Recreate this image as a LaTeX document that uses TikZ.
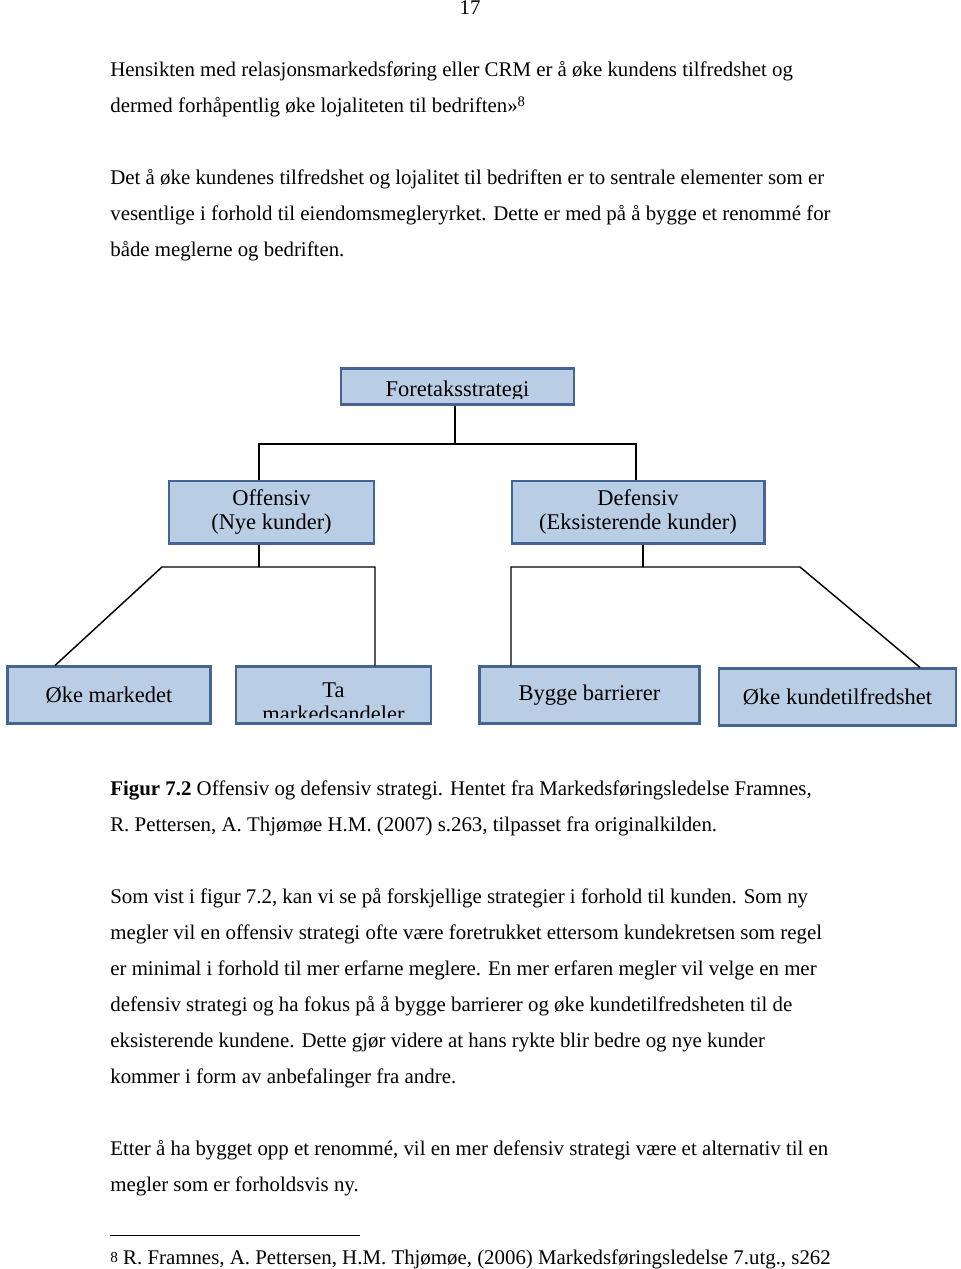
\documentclass[tikz,border=0pt]{standalone}
\usepackage{fontspec}
\setmainfont{Liberation Serif}
\definecolor{boxfill}{RGB}{185,205,229}
\definecolor{boxedge}{RGB}{70,100,145}
\tikzstyle{box} = [draw=boxedge, fill=boxfill, line width=1.8pt, inner sep=0pt]
\tikzstyle{boxtext} = [font=\fontsize{14}{15.2}\selectfont, align=center, inner sep=0pt]
\tikzstyle{line} = [anchor=base west, inner sep=0pt, font=\fontsize{13}{15}\selectfont]
\tikzstyle{link} = [line width=0.9pt]

\begin{document}
\begin{tikzpicture}[x=0.0219cm, y=-0.0219cm]
\useasboundingbox (0,0) rectangle (960,1269);

% page number and text above the figure
\node[line, anchor=base] (pageno) at (470,15) {17};
\node[line] (l1) at (110,77) {Hensikten med relasjonsmarkedsføring eller CRM er å øke kundens tilfredshet og};
\node[line] (l2) at (110,113) {dermed forhåpentlig øke lojaliteten til bedriften»\textsuperscript{8}};
\node[line] (l3) at (110,185) {Det å øke kundenes tilfredshet og lojalitet til bedriften er to sentrale elementer som er};
\node[line] (l4) at (110,221) {vesentlige i forhold til eiendomsmegleryrket. Dette er med på å bygge et renommé for};
\node[line] (l5) at (110,257) {både meglerne og bedriften.};

% the strategy tree
\node[box, minimum width=5.1cm, minimum height=0.78cm] (top) at (457.5,386.5) {};
\begin{scope}
\clip ([shift={(2,-7)}]top.south west) rectangle ([shift={(-2,2)}]top.north east);
\node[boxtext] (toptext) at (457.5,391) {Foretaksstrategi};
\end{scope}

\node[box, minimum width=4.49cm, minimum height=1.36cm, boxtext] (off) at (271.5,512) {Offensiv\\(Nye kunder)};
\node[box, minimum width=5.52cm, minimum height=1.36cm, boxtext] (def) at (638,512) {Defensiv\\(Eksisterende kunder)};

\node[box, minimum width=4.43cm, minimum height=1.23cm, boxtext] (okm) at (109,695) {Øke markedet};
\node[box, minimum width=4.27cm, minimum height=1.23cm] (tam) at (333.5,695) {};
\begin{scope}
\clip ([shift={(2,-7)}]tam.south west) rectangle ([shift={(-2,2)}]tam.north east);
\node[boxtext] (tamtext) at (333.5,702) {Ta\\markedsandeler};
\end{scope}
\node[box, minimum width=4.8cm, minimum height=1.23cm, boxtext] (byg) at (589.5,695) {Bygge barrierer};
\node[box, minimum width=5.19cm, minimum height=1.23cm, boxtext] (okk) at (837.5,697) {Øke kundetilfredshet};

\coordinate (tj) at (455,444);
\coordinate (oj) at (259,567);
\coordinate (dj) at (643,567);
\draw[link] (top.south -| tj) -- (tj);
\draw[link] ([shift={(-12.5,0)}]off.north) |- (tj) -| ([shift={(-2,0)}]def.north);
\draw[link] (off.south -| oj) -- (oj);
\draw[link] ([shift={(-54,0)}]okm.north) -- ([shift={(-97,0)}]oj) -| ([shift={(41.5,0)}]tam.north);
\draw[link] (def.south -| dj) -- (dj);
\draw[link] ([shift={(-78.5,0)}]byg.north) |- (dj) -- ([shift={(157,0)}]dj) -- ([shift={(82.5,0)}]okk.north);

% caption and text below the figure
\node[line] (cap1) at (110,795) {\textbf{Figur 7.2} Offensiv og defensiv strategi. Hentet fra Markedsføringsledelse Framnes,};
\node[line] (cap2) at (110,831) {R. Pettersen, A. Thjømøe H.M. (2007) s.263, tilpasset fra originalkilden.};
\node[line] (l6) at (110,903) {Som vist i figur 7.2, kan vi se på forskjellige strategier i forhold til kunden. Som ny};
\node[line] (l7) at (110,939) {megler vil en offensiv strategi ofte være foretrukket ettersom kundekretsen som regel};
\node[line] (l8) at (110,975) {er minimal i forhold til mer erfarne meglere. En mer erfaren megler vil velge en mer};
\node[line] (l9) at (110,1011) {defensiv strategi og ha fokus på å bygge barrierer og øke kundetilfredsheten til de};
\node[line] (l10) at (110,1047) {eksisterende kundene. Dette gjør videre at hans rykte blir bedre og nye kunder};
\node[line] (l11) at (110,1083) {kommer i form av anbefalinger fra andre.};
\node[line] (l12) at (110,1155) {Etter å ha bygget opp et renommé, vil en mer defensiv strategi være et alternativ til en};
\node[line] (l13) at (110,1191) {megler som er forholdsvis ny.};

% footnote
\coordinate (fr) at (110,1235);
\draw[line width=0.6pt] (fr) -- ++(250,0);
\node[line] (fn) at (110,1264) {{\fontsize{9.5}{9.5}\selectfont\raisebox{1pt}{8}} R. Framnes, A. Pettersen, H.M. Thjømøe, (2006) Markedsføringsledelse 7.utg., s262};
\end{tikzpicture}
\end{document}
